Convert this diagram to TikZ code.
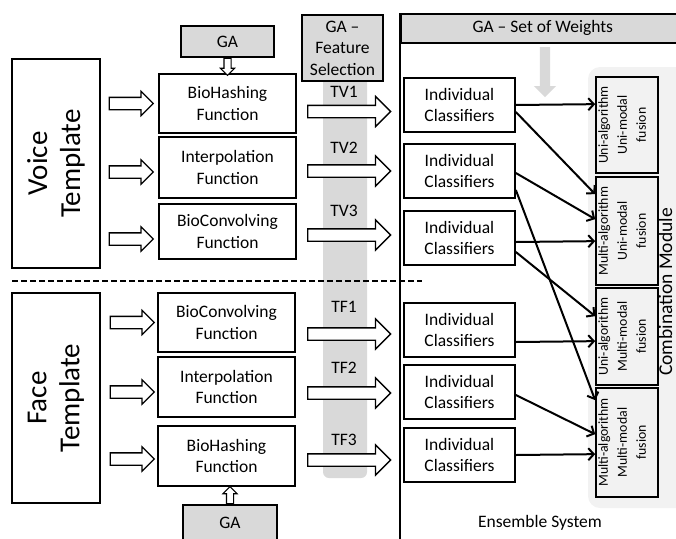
\documentclass[tikz,border=0pt]{standalone}
\usepackage{fontspec}
\setmainfont{Carlito}
\usepackage{tikz}
\usetikzlibrary{positioning,shapes.arrows,arrows.meta}
\newcommand\lbltxt{\fontsize{17.5}{21.5}\selectfont}
\newcommand\bigtxt{\fontsize{29}{33}\selectfont}
\newcommand\fustxt{\fontsize{13.8}{19}\selectfont}
\newcommand\cmtxt{\fontsize{19.5}{22}\selectfont}

\begin{document}
\begin{tikzpicture}
  [x=1pt,y=-1pt,
   box/.style={draw,line width=1.7pt,fill=white,align=center,font=\lbltxt,inner sep=0pt},
   gabox/.style={box,fill=black!15,line width=1.5pt},
   tmpl/.style={box,font=\bigtxt,rotate=90,minimum height=88},
   fn/.style={box,minimum width=137},
   clf/.style={box,minimum width=111,minimum height=54},
   fus/.style={box,fill=black!5,minimum width=62},
   fustext/.style={rotate=90,align=center,font=\fustxt,inner sep=0pt},
   blk/.style={single arrow,draw,fill=white,line width=1.3pt,inner xsep=0pt},
   inarr/.style={blk,anchor=tip,minimum height=44,inner ysep=5.5pt,single arrow head extend=6pt},
   outarr/.style={blk,anchor=tail,minimum height=83,inner ysep=5.5pt,single arrow head extend=9pt},
   gaarr/.style={blk,anchor=tail,line width=1.1pt,minimum height=17,inner ysep=3pt,single arrow head extend=3.5pt},
   lbl/.style={font=\lbltxt,inner sep=0pt},
   conn/.style={-{Straight Barb[length=5.5pt,width=12pt]},line width=2pt}]
  \useasboundingbox (0,0) rectangle (676,538);
  \clip (0,0) rectangle (676,538);

  % backgrounds
  \fill[black!15,rounded corners=6] (323,70) rectangle (367,478);
  \fill[black!5,rounded corners=12] (588,67) rectangle (700,508);
  \draw[line width=1.6pt] (400,13) -- (400,545);
  \draw[line width=1.5pt,dash pattern=on 6pt off 3pt] (12,281) -- (422,281);

  % templates
  \node[tmpl,minimum width=209] (voice) at (56,163.5) {Voice\\Template};
  \node[tmpl,minimum width=210] (face) at (56,398) {Face\\Template};

  % transformation functions
  \node[fn,minimum height=59] (hashv) at (227.5,103.5) {BioHashing\\Function};
  \node[fn,minimum height=61] (interv) at (227.5,167.5) {Interpolation\\Function};
  \node[fn,minimum height=55] (convv) at (227.5,231.5) {BioConvolving\\Function};
  \node[fn,minimum height=59] (convf) at (226.5,322.5) {BioConvolving\\Function};
  \node[fn,minimum height=60] (interf) at (226.5,387) {Interpolation\\Function};
  \node[fn,minimum height=60] (hashf) at (226.5,456) {BioHashing\\Function};

  \node[gabox,minimum width=93,minimum height=31] (gav) at (227.5,41.5) {GA};
  \node[gabox,minimum width=94,minimum height=36] (gaf) at (230,523) {GA};
  \node[gaarr,rotate=-90] (gavarr) at (gav.south) {};
  \node[gaarr,rotate=90] (gafarr) at (gaf.north) {};

  % input arrows
  \node[inarr] (inv1) at ([xshift=-4pt]hashv.west) {};
  \node[inarr] (inv2) at ([xshift=-4pt,yshift=-4.5pt]interv.west) {};
  \node[inarr] (inv3) at ([xshift=-4pt,yshift=-7.5pt]convv.west) {};
  \node[inarr] (inf1) at ([xshift=-2pt]convf.west) {};
  \node[inarr] (inf2) at ([xshift=-2pt,yshift=-5pt]interf.west) {};
  \node[inarr] (inf3) at ([xshift=-2pt,yshift=-3pt]hashf.west) {};

  % feature selection
  \node[gabox,minimum width=81,minimum height=66] (gafs) at (342.5,48) {GA –\\Feature\\Selection};
  \node[outarr] (tv1) at (307,111.5) {};
  \node[outarr] (tv2) at (307,171) {};
  \node[outarr] (tv3) at (307,235) {};
  \node[outarr] (tf1) at (307,334) {};
  \node[outarr] (tf2) at (307,393) {};
  \node[outarr] (tf3) at (307,460) {};
  \node[lbl] (ltv1) at (344,92) {TV1};
  \node[lbl] (ltv2) at (344,148) {TV2};
  \node[lbl] (ltv3) at (344,211) {TV3};
  \node[lbl] (ltf1) at (344,307) {TF1};
  \node[lbl] (ltf2) at (344,368) {TF2};
  \node[lbl] (ltf3) at (344,440) {TF3};

  % ensemble system
  \node[gabox,anchor=north west,minimum width=284,minimum height=29] (gaw) at (400,13) {GA – Set of Weights};
  \node[single arrow,fill=black!15,rotate=-90,anchor=tail,inner xsep=0pt,inner ysep=5pt,
        minimum height=50,single arrow head extend=6pt] (wdown) at (545,47) {};

  \node[clf] (ic1) at (459.5,105) {Individual\\Classifiers};
  \node[clf] (ic2) at (459.5,171) {Individual\\Classifiers};
  \node[clf] (ic3) at (459.5,238) {Individual\\Classifiers};
  \node[clf] (ic4) at (459.5,330) {Individual\\Classifiers};
  \node[clf] (ic5) at (459.5,392) {Individual\\Classifiers};
  \node[clf] (ic6) at (459.5,455) {Individual\\Classifiers};

  \node[fus,minimum height=96] (uu) at (627,125) {};
  \node[fus,minimum height=108] (mu) at (627,231) {};
  \node[fus,minimum height=97] (um) at (627,336.5) {};
  \node[fus,minimum height=109] (mm) at (627,442.5) {};
  \node[fustext] (uut) at ([xshift=-5pt]uu.center) {Uni-algorithm\\Uni-modal\\fusion};
  \node[fustext] (mut) at ([xshift=-5pt]mu.center) {Multi-algorithm\\Uni-modal\\fusion};
  \node[fustext] (umt) at ([xshift=-5pt]um.center) {Uni-algorithm\\Multi-modal\\fusion};
  \node[fustext] (mmt) at ([xshift=-5pt]mm.center) {Multi-algorithm\\Multi-modal\\fusion};

  \node[font=\cmtxt,rotate=90,anchor=base,inner sep=0pt] (cm) at (672,292) {Combination Module};
  \node[lbl] (ens) at (540,523) {Ensemble System};

  \foreach \a/\da/\b/\db in {ic1/0pt/uu/28pt,ic1/7pt/mu/18pt,ic2/2pt/mu/43pt,ic2/19pt/mm/13pt,
      ic3/4pt/mu/65pt,ic3/14pt/um/29pt,ic4/12pt/um/54pt,ic5/3pt/mm/47pt,ic6/0pt/mm/67pt}
    \draw[conn] ([yshift=-\da]\a.east) -- ([yshift=-\db]\b.north west);

\end{tikzpicture}
\end{document}
